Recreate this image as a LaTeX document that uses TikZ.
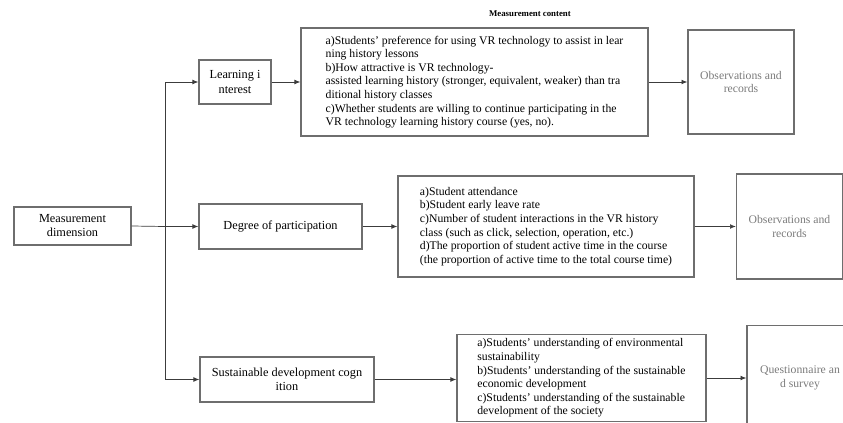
\documentclass[tikz,border=0pt]{standalone}
\usepackage{fontspec}
\setmainfont{Liberation Serif}
\usetikzlibrary{arrows.meta}
\definecolor{boxgray}{HTML}{6E6E6E}
\definecolor{linegray}{HTML}{3C3C3C}
\definecolor{textgray}{HTML}{7A7A7A}
\begin{document}
\begin{tikzpicture}[x=0.03cm, y=-0.03cm,
  dimbox/.style={draw=boxgray, line width=1.1pt, align=center, font=\fontsize{10.5}{12}\selectfont},
  contbox/.style={draw=boxgray, line width=1.1pt, align=left, font=\fontsize{10}{11.6}\selectfont},
  obsbox/.style={draw=boxgray, line width=1.1pt, align=center, text=textgray, minimum width=3.18cm, minimum height=3.15cm, font=\fontsize{10}{11.5}\selectfont},
  link/.style={draw=linegray, line width=0.6pt},
  >={Latex[length=5pt,width=4pt]}]
\useasboundingbox (0,0) rectangle (843,423);
\clip (0,0) rectangle (843,423);
\begin{scope}
\path (72.5,226)  node[dimbox, minimum width=3.51cm, minimum height=1.14cm] (dim) {Measurement\\dimension};
\path (235,82)  node[dimbox, minimum width=2.16cm, minimum height=1.32cm] (li) {Learning i\\nterest};
\path (280.5,226.5)  node[dimbox, minimum width=4.89cm, minimum height=1.35cm] (dp) {Degree of participation};
\path (287,379.5)  node[dimbox, minimum width=5.22cm, minimum height=1.35cm] (sd) {Sustainable development cogn\\ition};
\path (485,14)  node[anchor=west, font=\fontsize{7.5}{9}\selectfont\bfseries] (head) {Measurement content};
\path (474.5,82)  node[contbox, minimum width=10.41cm, minimum height=3.24cm] (c1) {a)Students' preference for using VR technology to assist in lear\\ning history lessons\\b)How attractive is VR technology-\\assisted learning history (stronger, equivalent, weaker) than tra\\ditional history classes\\c)Whether students are willing to continue participating in the\\VR technology learning history course (yes, no).};
\path (546,226.5)  node[contbox, minimum width=8.88cm, minimum height=3.03cm] (c2) {a)Student attendance\\b)Student early leave rate\\c)Number of student interactions in the VR history\\class (such as click, selection, operation, etc.)\\d)The proportion of student active time in the course\\(the proportion of active time to the total course time)};
\path (581.5,378)  node[contbox, minimum width=7.47cm, minimum height=2.58cm] (c3) {a)Students' understanding of environmental\\sustainability\\b)Students' understanding of the sustainable\\economic development\\c)Students' understanding of the sustainable\\development of the society};
\path (741,82)  node[obsbox, minimum height=3.12cm] (o1) {Observations and\\records};
\path (789.5,226.5)  node[obsbox] (o2) {Observations and\\records};
\path (800,378)  node[obsbox] (o3) {Questionnaire an\\d survey};
\coordinate (bus) at (165,226.5);
\end{scope}
% connectors
\draw[link] (dim.east) -- (bus);
\draw[link] (bus |- li.west) -- (bus |- sd.west);
\draw[link, ->] (bus |- li.west) -- (li.west);
\draw[link, ->] (bus) -- (dp.west);
\draw[link, ->] (bus |- sd.west) -- (sd.west);
\draw[link, ->] (li.east) -- (c1.west);
\draw[link, ->] (dp.east) -- (c2.west);
\draw[link, ->] (sd.east) -- (c3.west |- sd.east);
\draw[link, ->] (c1.east) -- (o1.west);
\draw[link, ->] (c2.east) -- (o2.west);
\draw[link, ->] (c3.east) -- (o3.west);
\end{tikzpicture}
\end{document}
